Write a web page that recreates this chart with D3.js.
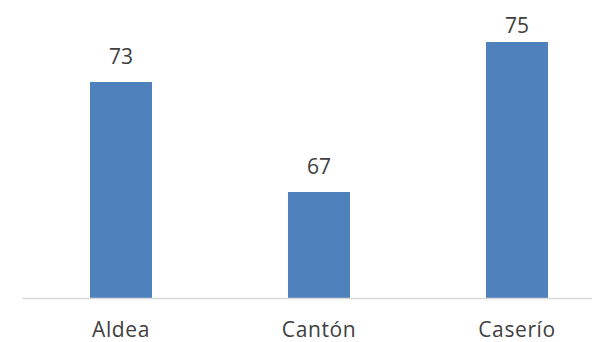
<!DOCTYPE html>
<html lang="es">
	<head>
		<meta charset="utf-8">
		<title>Bar chart</title>
		<script type="text/javascript" src="https://d3js.org/d3.v7.min.js"></script>
		<style type="text/css">
			body {
				margin: 0;
				background: white;
			}
			text {
				font-family: 'Open Sans', 'Liberation Sans', sans-serif;
				fill: #404040;
			}
		</style>
	</head>
	<body>
		<div id="chart"></div>
		<script type="text/javascript">

		// data
		var categories = ["Aldea", "Cantón", "Caserío"];
		var values = [72.8, 67.3, 74.8];

		var w = 592;
		var h = 342;

		var svg = d3.select("#chart")
			.append("svg")
			.attr("width", w)
			.attr("height", h);

		// plot area runs past the right edge (picture is cropped)
		var x = d3.scaleBand()
			.domain(categories)
			.range([22, 616])
			.paddingInner(0.687)
			.paddingOuter(0.3435);

		var y = d3.scaleLinear()
			.domain([62, 76])
			.range([298, 18]);

		svg.selectAll("rect.bar")
			.data(values)
			.enter()
			.append("rect")
			.attr("class", "bar")
			.attr("x", function(d, i) { return x(categories[i]); })
			.attr("y", function(d) { return y(d); })
			.attr("width", x.bandwidth())
			.attr("height", function(d) { return y(62) - y(d); })
			.attr("fill", "#4F81BD");

		// baseline
		var xAxis = d3.axisBottom(x).tickSize(0).tickPadding(24);
		var gx = svg.append("g")
			.attr("transform", "translate(0," + y(62) + ")")
			.call(xAxis);
		gx.select(".domain").attr("stroke", "#d9d9d9").attr("stroke-width", 1.5);
		gx.selectAll("text")
			.style("font-size", "21px")
			.style("letter-spacing", "0.6px")
			.attr("fill", "#404040");

		// value labels (clamped to top of plot like Excel)
		svg.selectAll("text.val")
			.data(values)
			.enter()
			.append("text")
			.attr("class", "val")
			.attr("x", function(d, i) { return x(categories[i]) + x.bandwidth() / 2; })
			.attr("y", function(d) { return Math.max(y(d) - 18, 33); })
			.attr("text-anchor", "middle")
			.style("font-size", "21px")
			.text(function(d) { return d3.format(".0f")(d); });

		</script>
	</body>
</html>
